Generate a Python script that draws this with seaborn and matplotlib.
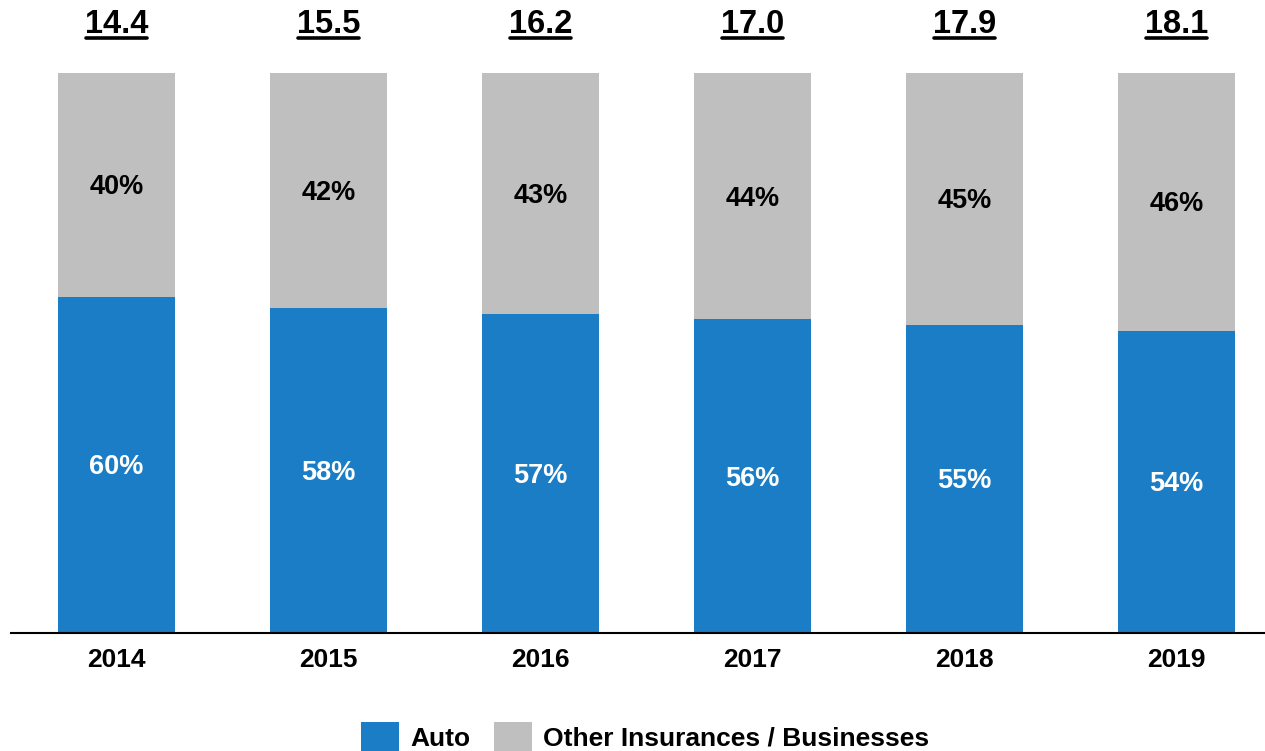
import matplotlib
matplotlib.use("Agg")
import matplotlib.pyplot as plt
from matplotlib.patches import Patch
from matplotlib.lines import Line2D
import seaborn as sns
import pandas as pd

years = ["2014", "2015", "2016", "2017", "2018", "2019"]
auto_share = [60, 58, 57, 56, 55, 54]
other_share = [40, 42, 43, 44, 45, 46]
totals = ["14.4", "15.5", "16.2", "17.0", "17.9", "18.1"]

series_names = ["Auto", "Other Insurances / Businesses"]
blue = "#1B7DC5"
gray = "#BFBFBF"

sns.set_theme(style="white")
plt.rcParams["font.family"] = ["Liberation Sans", "DejaVu Sans"]
plt.rcParams["font.weight"] = "bold"
plt.rcParams["text.color"] = "black"

df = pd.DataFrame({
    "year": years,
    "auto": auto_share,
    "other": other_share,
})
df["stack"] = df["auto"] + df["other"]

fig = plt.figure(figsize=(12.65, 7.51), dpi=100)
ax = fig.add_axes([11 / 1265, 1 - 633 / 751, 1 - 11 / 1265, (633 - 73) / 751])

bar_w = 0.552
sns.barplot(data=df, x="year", y="stack", color=gray, width=bar_w,
            saturation=1, ax=ax, edgecolor="none")
sns.barplot(data=df, x="year", y="auto", color=blue, width=bar_w,
            saturation=1, ax=ax, edgecolor="none")

ax.set_xlim(-0.498, 5.417)
ax.set_ylim(0, 100)
for s in ["top", "right", "left"]:
    ax.spines[s].set_visible(False)
ax.spines["bottom"].set_color("black")
ax.spines["bottom"].set_linewidth(1.5)
ax.set_yticks([])
ax.set_xlabel("")
ax.set_ylabel("")
ax.tick_params(axis="x", length=0, pad=11, labelsize=19)
for lbl in ax.get_xticklabels():
    lbl.set_fontweight("bold")
    lbl.set_color("black")

# Segment labels, centred on each segment
for i in range(len(years)):
    a = df["auto"][i]
    o = df["other"][i]
    ax.annotate(f"{a}%", (i, a / 2), xytext=(0, -1.8), textcoords="offset points",
                ha="center", va="center", color="white",
                fontsize=19.5, fontweight="bold")
    ax.annotate(f"{o}%", (i, a + o / 2), xytext=(0, -1.8), textcoords="offset points",
                ha="center", va="center", color="black",
                fontsize=19.5, fontweight="bold")

# Totals above each bar, underlined
total_texts = []
for i, t in enumerate(totals):
    txt = ax.text(i, 108.7, t, ha="center", va="center", color="black",
                  fontsize=23.5, fontweight="bold", clip_on=False)
    total_texts.append(txt)

fig.canvas.draw()
renderer = fig.canvas.get_renderer()
inv = fig.transFigure.inverted()
for txt in total_texts:
    bb = txt.get_window_extent(renderer)
    (x0, y0), (x1, y1) = inv.transform([(bb.x0, bb.y0), (bb.x1, bb.y1)])
    yline = y0 + 0.003
    fig.add_artist(Line2D([x0 + 0.001, x1 - 0.001], [yline, yline],
                          color="black", linewidth=2.6))

handles = [Patch(facecolor=blue, edgecolor="none"),
           Patch(facecolor=gray, edgecolor="none")]
leg = fig.legend(handles, series_names, loc="lower center",
                 bbox_to_anchor=(0.510, -0.034), ncol=2, frameon=False,
                 prop={"size": 19, "weight": "bold"},
                 handlelength=1.44, handleheight=1.44, handletextpad=0.42,
                 columnspacing=0.9)
for t in leg.get_texts():
    t.set_color("black")

fig.savefig("out.png", dpi=100)
